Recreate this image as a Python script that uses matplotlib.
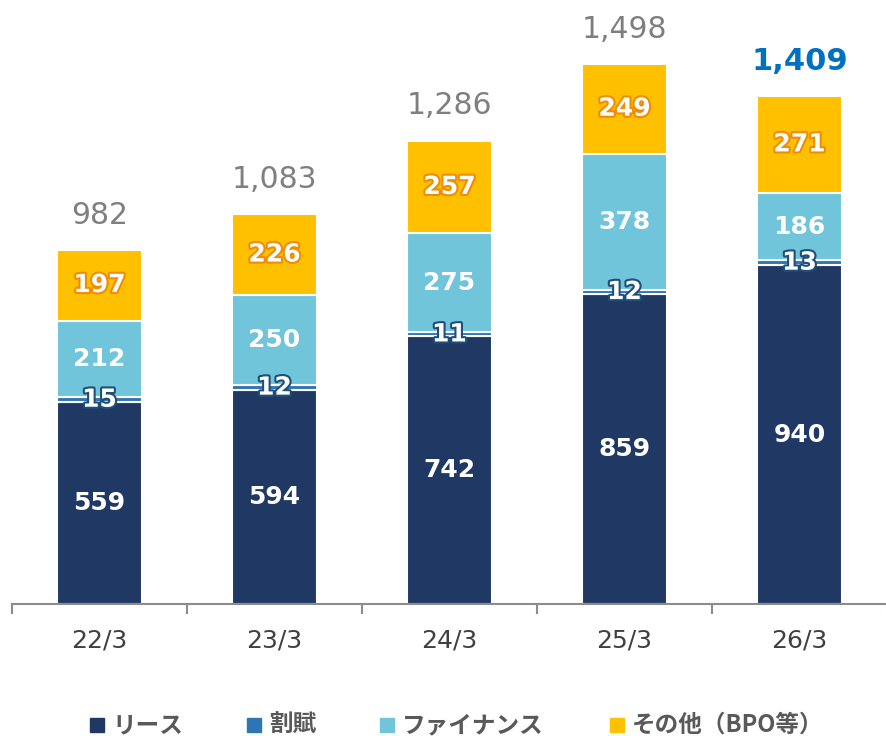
import numpy as np
import matplotlib
matplotlib.use("Agg")
import matplotlib.pyplot as plt
import matplotlib.patheffects as pe
from matplotlib.patches import Rectangle

plt.rcParams['font.family'] = ['DejaVu Sans', 'Noto Sans CJK JP']

periods = ['22/3', '23/3', '24/3', '25/3', '26/3']
lease = [559, 594, 742, 859, 940]
installment = [15, 12, 11, 12, 13]
finance = [212, 250, 275, 378, 186]
other = [197, 226, 257, 249, 271]
totals = [982, 1083, 1286, 1498, 1409]
names = ['リース', '割賦', 'ファイナンス', 'その他（BPO等）']
colors = ['#203864', '#2E75B6', '#70C5DA', '#FFC000']

fig = plt.figure(figsize=(8.86, 7.36), dpi=100)
ax = fig.add_axes([12 / 886, 132 / 736, 875 / 886, 604 / 736])

x = np.arange(len(periods))
w = 0.49
series = [lease, installment, finance, other]
bottom = np.zeros(len(periods))
for vals, c in zip(series, colors):
    ax.bar(x, vals, w, bottom=bottom, color=c, edgecolor='white', linewidth=1.5, zorder=2)
    bottom += np.array(vals)

# segment labels
fs = 18
for i in range(len(periods)):
    b = 0
    ax.text(x[i], lease[i] / 2, f'{lease[i]}', ha='center', va='center',
            color='white', fontsize=fs, fontweight='bold', zorder=5)
    b += lease[i]
    ax.text(x[i], b + installment[i] / 2, f'{installment[i]}', ha='center', va='center',
            color='white', fontsize=fs, fontweight='bold', zorder=6,
            path_effects=[pe.withStroke(linewidth=3, foreground='#1F4E79')])
    b += installment[i]
    ax.text(x[i], b + finance[i] / 2, f'{finance[i]}', ha='center', va='center',
            color='white', fontsize=fs, fontweight='bold', zorder=5)
    b += finance[i]
    ax.text(x[i], b + other[i] / 2, f'{other[i]}', ha='center', va='center',
            color='white', fontsize=fs, fontweight='bold', zorder=5,
            path_effects=[pe.withStroke(linewidth=3, foreground='#F08C00')])

# totals
for i, t in enumerate(totals):
    if i == len(totals) - 1:
        ax.text(x[i], t + 55, f'{t:,}', ha='center', va='bottom', color='#0070C0',
                fontsize=22, fontweight='bold')
    else:
        ax.text(x[i], t + 55, f'{t:,}', ha='center', va='bottom', color='#7F7F7F',
                fontsize=21.5)

ax.set_xlim(-0.5, 4.5)
ax.set_ylim(0, 1675)
for s in ['top', 'right', 'left']:
    ax.spines[s].set_visible(False)
ax.spines['bottom'].set_color('#8C8C8C')
ax.spines['bottom'].set_linewidth(1.5)
ax.set_yticks([])
ax.set_xticks(np.arange(-0.5, 5.0, 1.0), minor=False)
ax.set_xticklabels([])
ax.tick_params(axis='x', which='major', length=7, width=1.5, color='#8C8C8C', direction='out')
ax.set_xticks(x, minor=True)
ax.set_xticklabels(periods, minor=True)
ax.tick_params(axis='x', which='minor', length=0, pad=18, labelsize=18, labelcolor='#404040')

# legend, laid out like the source
leg_x = [90, 247, 380, 610]
for lx, name, c in zip(leg_x, names, colors):
    fig.patches.append(Rectangle((lx / 886, 4 / 736), 14 / 886, 14 / 736,
                                 transform=fig.transFigure, color=c, figure=fig))
    fig.text((lx + 22) / 886, 11 / 736, name, ha='left', va='center',
             family=['Noto Sans CJK JP'], fontweight='bold', fontsize=17, color='#595959')

fig.savefig('out.png', dpi=100)
